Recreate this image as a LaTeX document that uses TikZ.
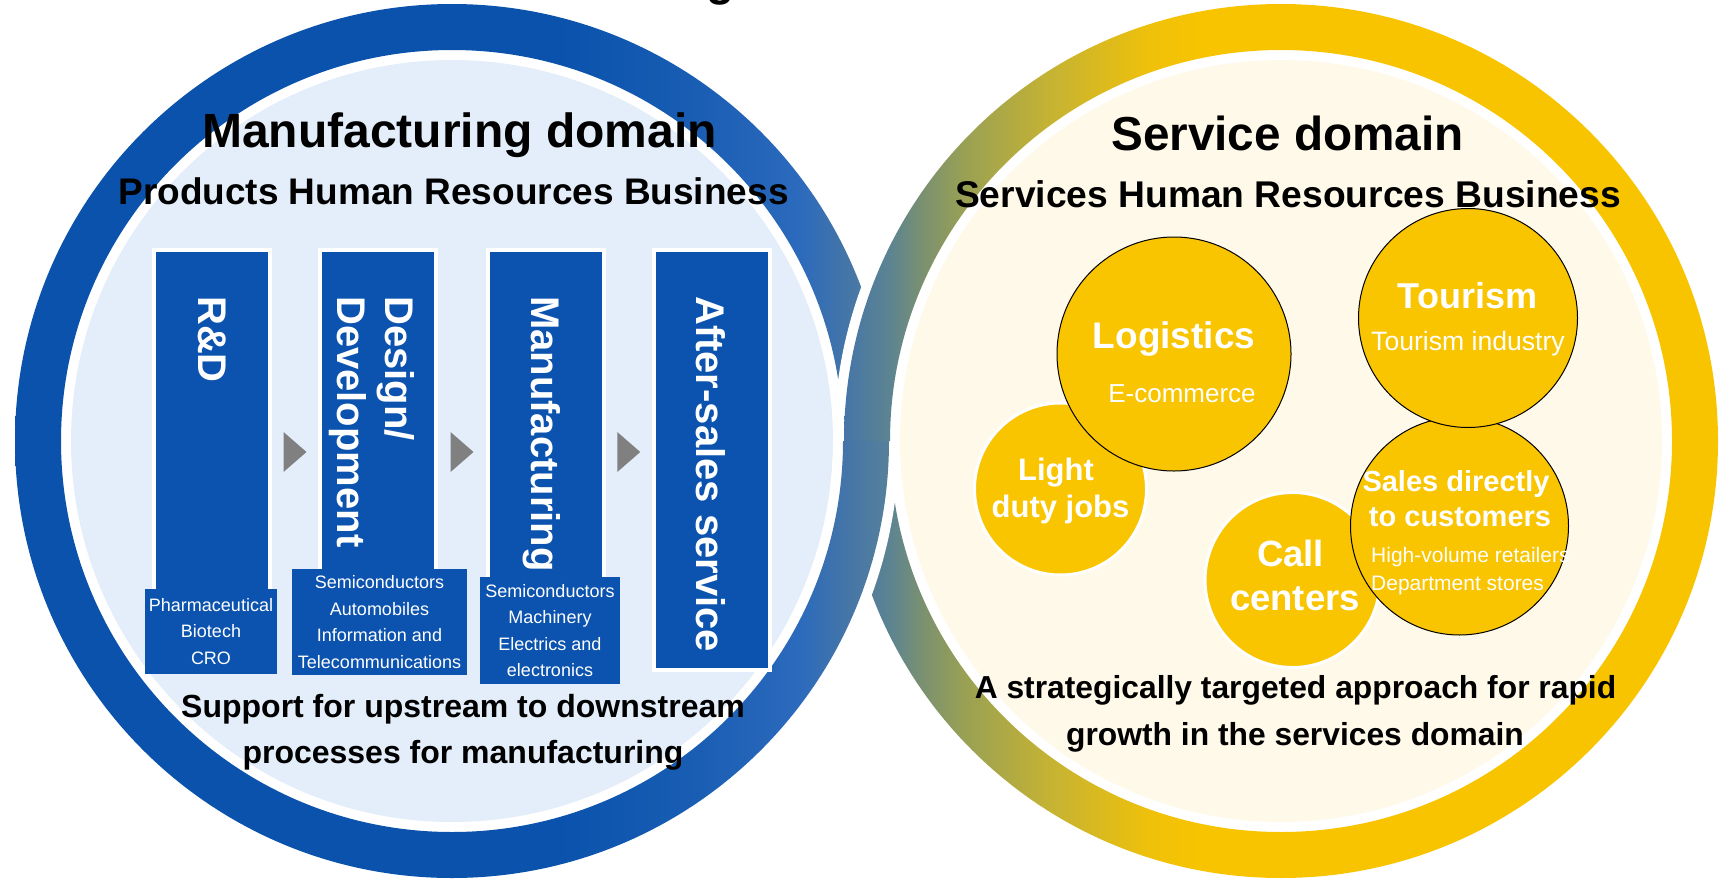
\documentclass[tikz,border=0pt]{standalone}
\usepackage{fontspec}
\setmainfont{Liberation Sans}
\usetikzlibrary{calc}
\definecolor{ringblue}{HTML}{0A52AC}
\definecolor{ringbb}{HTML}{1A5EB4}
\definecolor{ringbc}{HTML}{2C6ABC}
\definecolor{ringbd}{HTML}{4475A8}
\definecolor{ringbe}{HTML}{56809A}
\definecolor{ringya}{HTML}{4575A8}
\definecolor{ringyb}{HTML}{5D8490}
\definecolor{ringyc}{HTML}{7A9070}
\definecolor{ringyd}{HTML}{98A055}
\definecolor{ringye}{HTML}{C6B332}
\definecolor{ringyf}{HTML}{EFC10A}
\definecolor{ringyellow}{HTML}{F8C400}
\definecolor{boxblue}{HTML}{0B53AE}
\definecolor{paleblue}{HTML}{E3EEFA}
\definecolor{cream}{HTML}{FFF9E9}
\definecolor{bubbleyellow}{HTML}{F9C400}
\definecolor{arrowgray}{HTML}{808080}
\pgfdeclarehorizontalshading{leftring}{100bp}{color(0bp)=(ringblue); color(56.18bp)=(ringblue); color(64.19bp)=(ringbb); color(69.91bp)=(ringbc); color(72.48bp)=(ringbd); color(75bp)=(ringbe); color(100bp)=(ringbe)}
\pgfdeclarehorizontalshading{rightring}{100bp}{color(0bp)=(ringya); color(25bp)=(ringya); color(27.69bp)=(ringyb); color(29.46bp)=(ringyc); color(31.75bp)=(ringyd); color(36.9bp)=(ringye); color(42.62bp)=(ringyf); color(45.48bp)=(ringyellow); color(100bp)=(ringyellow)}
\begin{document}
\begin{tikzpicture}[x=1pt,y=-1pt,
  mainbox/.style={draw=white, line width=4pt, fill=boxblue, minimum width=116pt, minimum height=420pt, inner sep=0pt},
  subbox/.style={fill=boxblue, text=white, align=center, inner sep=0pt, font=\fontsize{18}{26.5}\selectfont},
  vlabel/.style={rotate=-90, anchor=west, text=white, inner sep=0pt, align=left, font=\bfseries\fontsize{40}{48}\selectfont},
  bubble/.style={circle, fill=bubbleyellow, inner sep=0pt},
  blackrim/.style={draw=black, line width=1pt},
  whiterim/.style={draw=white, line width=3pt},
  txt/.style={anchor=base, inner sep=0pt},
  wtxt/.style={anchor=base, inner sep=0pt, text=white},
  arrowtri/.style={fill=arrowgray}
]
\fill[white] (0,0) rectangle (1721,881);
\useasboundingbox (0,0) rectangle (1721,881);

% cut-off title letter at the top edge
\node[txt, font=\bfseries\fontsize{46}{50}\selectfont] (gtail) at (721,-5) {g};

% left ring
\coordinate (lc) at (452,441);
\coordinate (rc) at (1281,441);
\shade[shading=leftring, even odd rule] (lc) circle (437) (lc) circle (391);
\fill[paleblue] (lc) circle (381);

% right ring (over the left one at the top)
\fill[white] (rc) circle (447);
\shade[shading=rightring, even odd rule] (rc) circle (437) (rc) circle (391);
\fill[cream] (rc) circle (381);

% lower crossing: left ring over right ring
\begin{scope}
  \clip (790,441) rectangle (960,881);
  \fill[white, even odd rule] (lc) circle (447) (lc) circle (381);
  \shade[shading=leftring, even odd rule] (lc) circle (437) (lc) circle (391);
\end{scope}

% headings
\node[txt, font=\bfseries\fontsize{48}{56}\selectfont] (mhead) at (459.5,147) {Manufacturing domain};
\node[txt, font=\bfseries\fontsize{37}{44}\selectfont] (msub) at (453.5,204) {Products Human Resources Business};

% process boxes
\node[mainbox] (rd) at (212,460) {};
\node[mainbox] (dd) at (378,460) {};
\node[mainbox] (mf) at (546,460) {};
\node[mainbox] (as) at (711.5,460) {};
\node[vlabel] (rdl) at (212,296) {R\&D};
\node[vlabel] (ddl) at (371.5,296) {Design/\\Development};
\node[vlabel] (mfl) at (542,296) {Manufacturing};
\node[vlabel] (asl) at (711,296) {After-sales service};

\node[subbox, minimum width=132pt, minimum height=85pt] (rds) at (211,631.5) {Pharmaceutical\\Biotech\\CRO};
\node[subbox, minimum width=175pt, minimum height=106pt] (dds) at (379.5,622) {Semiconductors\\Automobiles\\Information and\\Telecommunications};
\node[subbox, minimum width=140pt, minimum height=107pt] (mfs) at (550,630.5) {Semiconductors\\Machinery\\Electrics and\\electronics};

% arrows between boxes
\coordinate (a1) at ($(rd.east)!0.5!(dd.west)+(0,-8)$);
\coordinate (a2) at ($(dd.east)!0.5!(mf.west)+(0,-8)$);
\coordinate (a3) at ($(mf.east)!0.5!(as.west)+(0,-8)$);
\foreach \a in {a1,a2,a3}{
  \fill[arrowtri] ($(\a)+(-11.5,-20)$) -- ($(\a)+(11.5,0)$) -- ($(\a)+(-11.5,20)$) -- cycle;
}

\node[txt, font=\bfseries\fontsize{32}{46}\selectfont] (mfoot1) at (463,717) {Support for upstream to downstream};
\node[txt, font=\bfseries\fontsize{32}{46}\selectfont] (mfoot2) at (463,763) {processes for manufacturing};

% service bubbles
\node[bubble, whiterim, minimum size=172pt] (lightc) at (1060.5,489) {};
\node[bubble, blackrim, minimum size=234pt] (logc) at (1174,354) {};
\node[bubble, whiterim, minimum size=175pt] (callc) at (1292.5,580) {};
\node[bubble, blackrim, minimum size=218pt] (salesc) at (1459.5,526) {};
\node[bubble, blackrim, minimum size=219pt] (tourc) at (1468,318) {};

\node[txt, font=\bfseries\fontsize{47.7}{56}\selectfont] (shead) at (1287.5,150) {Service domain};
\node[txt, font=\bfseries\fontsize{37.2}{44}\selectfont] (ssub) at (1288,207) {Services Human Resources Business};

\node[wtxt, font=\bfseries\fontsize{37}{44}\selectfont] (logt) at (1174,348) {Logistics};
\node[wtxt, font=\fontsize{26}{30}\selectfont] (logs) at (1182,402) {E-commerce};
\node[wtxt, font=\bfseries\fontsize{36}{42}\selectfont] (tourt) at (1467.5,308) {Tourism};
\node[wtxt, font=\fontsize{26.6}{30}\selectfont] (tours) at (1468,350) {Tourism industry};
\node[wtxt, font=\bfseries\fontsize{31}{36}\selectfont] (lightt1) at (1056,480) {Light};
\node[wtxt, font=\bfseries\fontsize{31}{36}\selectfont] (lightt2) at (1060.5,517) {duty jobs};
\node[wtxt, font=\bfseries\fontsize{36.5}{44}\selectfont] (callt1) at (1290.5,566) {Call};
\node[wtxt, font=\bfseries\fontsize{36.5}{44}\selectfont] (callt2) at (1295,610) {centers};
\node[wtxt, font=\bfseries\fontsize{29}{35}\selectfont] (salest1) at (1456,491) {Sales directly};
\node[wtxt, font=\bfseries\fontsize{29}{35}\selectfont] (salest2) at (1460,526) {to customers};
\node[wtxt, anchor=base west, font=\fontsize{21}{28}\selectfont] (saless1) at (1371,562) {High-volume retailers};
\node[wtxt, anchor=base west, font=\fontsize{21}{28}\selectfont] (saless2) at (1371,590) {Department stores};

\node[txt, font=\bfseries\fontsize{31.8}{46}\selectfont] (sfoot1) at (1295.5,698) {A strategically targeted approach for rapid};
\node[txt, font=\bfseries\fontsize{31.8}{46}\selectfont] (sfoot2) at (1295,745) {growth in the services domain};
\end{tikzpicture}
\end{document}
